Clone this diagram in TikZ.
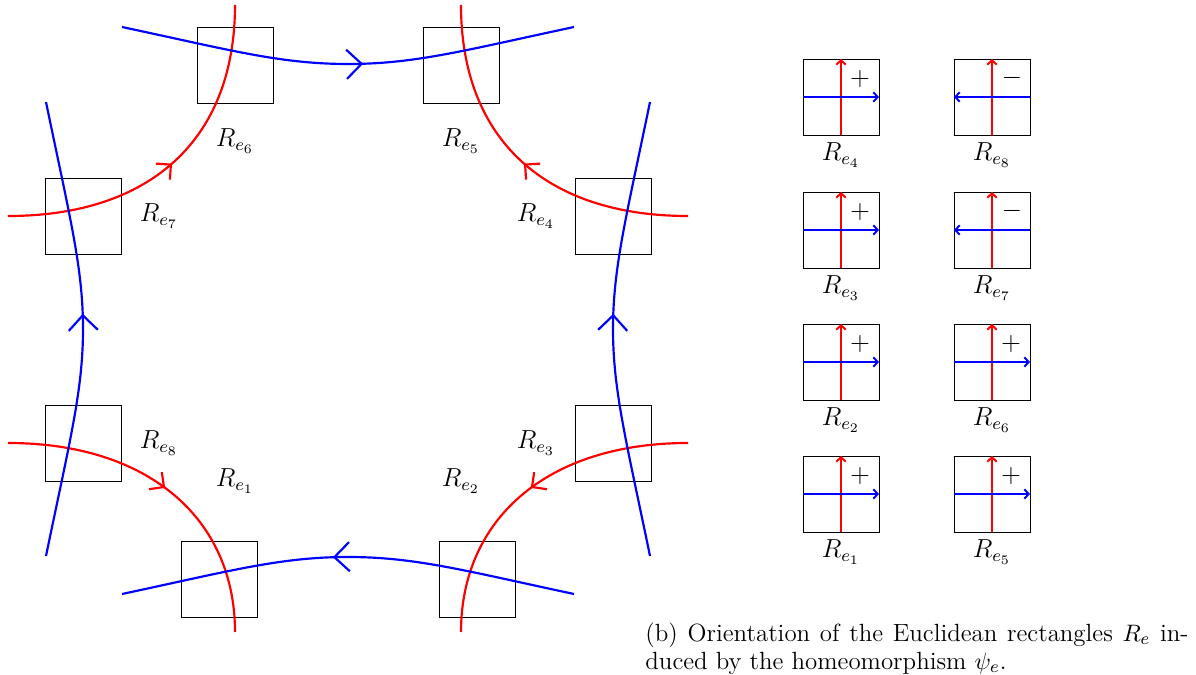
\documentclass[tikz,border=0pt]{standalone}
\usetikzlibrary{arrows.meta,decorations.markings}
\begin{document}
\begin{tikzpicture}[x=0.46pt,y=-0.46pt,
  sq/.style={draw=black, line width=0.45pt, minimum size=34.96pt, inner sep=0pt, outer sep=0pt},
  lab/.style={font=\fontsize{12}{14}\selectfont, inner sep=0pt},
  redc/.style={draw=red, line width=1pt},
  bluec/.style={draw=blue, line width=1pt},
  redmark/.style={postaction={decorate}, decoration={markings, mark=at position #1 with {\arrow{Straight Barb[length=4.9pt,width=9.8pt]}}}},
  bluemark/.style={postaction={decorate}, decoration={markings, mark=at position #1 with {\arrow{Straight Barb[length=6.9pt,width=13.4pt]}}}},
  tinyarr/.style={line width=0.9pt, -{Straight Barb[length=2pt,width=4.4pt]}}
]
\useasboundingbox (0,0) rectangle (1196,675);

% squares (left figure)
\node[sq] (s6) at (235,65) {};
\node[sq] (s5) at (461,65) {};
\node[sq] (s7) at (83,216) {};
\node[sq] (s4) at (613,216) {};
\node[sq] (s8) at (83,443) {};
\node[sq] (s3) at (613,443) {};
\node[sq] (s1) at (219.5,579) {};
\node[sq] (s2) at (477,579) {};

% curve end points
\coordinate (ra1) at (8,216);   \coordinate (rb1) at (235,5);
\coordinate (ra2) at (688,216); \coordinate (rb2) at (461,5);
\coordinate (ra3) at (8,443);   \coordinate (rb3) at (235,632);
\coordinate (ra4) at (688,443); \coordinate (rb4) at (461,632);
\coordinate (bt1) at (122,27);  \coordinate (bt2) at (574,27);
\coordinate (bl1) at (46,556);  \coordinate (bl2) at (46,102);
\coordinate (br1) at (650,556); \coordinate (br2) at (650,102);
\coordinate (bb1) at (574,594); \coordinate (bb2) at (122,594);

% red curves
\draw[redc, redmark=0.5] (ra1) .. controls (150,216) and (235,140) .. (rb1);
\draw[redc, redmark=0.5] (ra2) .. controls (546,216) and (461,140) .. (rb2);
\draw[redc, redmark=0.5] (ra3) .. controls (150,443) and (235,520) .. (rb3);
\draw[redc, redmark=0.5] (ra4) .. controls (546,443) and (461,520) .. (rb4);

% blue curves
\draw[bluec, bluemark=0.533] (bt1) .. controls (230,50) and (280,64) .. (348,64) .. controls (416,64) and (466,50) .. (bt2);
\draw[bluec, bluemark=0.533] (bl1) .. controls (70,440) and (83,390) .. (83,329) .. controls (83,268) and (70,218) .. (bl2);
\draw[bluec, bluemark=0.533] (br1) .. controls (626,440) and (613,390) .. (613,329) .. controls (613,268) and (626,218) .. (br2);
\draw[bluec, bluemark=0.533] (bb1) .. controls (466,571) and (416,557) .. (348,557) .. controls (280,557) and (230,571) .. (bb2);

% labels (left figure)
\node[lab] (l6) at (235,141) {$R_{e_6}$};
\node[lab] (l5) at (461,141) {$R_{e_5}$};
\node[lab] (l7) at (159,216) {$R_{e_7}$};
\node[lab] (l4) at (536,216) {$R_{e_4}$};
\node[lab] (l8) at (159,443) {$R_{e_8}$};
\node[lab] (l3) at (536,443) {$R_{e_3}$};
\node[lab] (l1) at (235,481) {$R_{e_1}$};
\node[lab] (l2) at (461,481) {$R_{e_2}$};

% right panel: positive orientation
\foreach \n/\x/\y in {4/841/97, 3/841/230, 2/841/362, 1/841/494, 6/992/362, 5/992/494} {
  \node[sq] (q\n) at (\x,\y) {};
  \draw[tinyarr, red] (q\n.south) -- (q\n.north);
  \draw[tinyarr, blue] (q\n.west) -- (q\n.east);
  \node[lab] (p\n) at ({\x+19},{\y-18}) {$+$};
  \node[lab] (t\n) at (\x,{\y+58}) {$R_{e_\n}$};
}
% right panel: negative orientation
\foreach \n/\x/\y in {8/992/97, 7/992/230} {
  \node[sq] (q\n) at (\x,\y) {};
  \draw[tinyarr, red] (q\n.south) -- (q\n.north);
  \draw[tinyarr, blue] (q\n.east) -- (q\n.west);
  \node[lab] (p\n) at ({\x+20},{\y-19}) {$-$};
  \node[lab] (t\n) at (\x,{\y+58}) {$R_{e_\n}$};
}

% caption
\node[font=\fontsize{11.45}{12.9}\selectfont, anchor=north west, inner sep=0pt, align=left] (cap) at (645,622)
  {\makebox[249.8pt][s]{(b) Orientation of the Euclidean rectangles $R_e$ in-}\\duced by the homeomorphism $\psi_e$.};
\end{tikzpicture}
\end{document}
